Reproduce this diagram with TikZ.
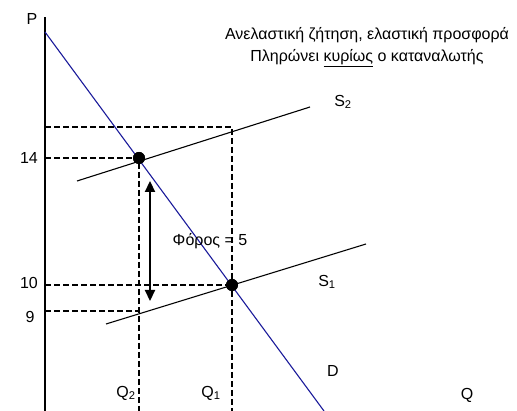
\documentclass[tikz,border=0pt]{standalone}
\usepackage{fontspec}
\setmainfont{Liberation Sans}
\usepackage{xcolor}
\usetikzlibrary{calc,positioning,arrows.meta}
\definecolor{demandblue}{HTML}{1A1A9A}

\begin{document}
\begin{tikzpicture}[
  x=1pt, y=-1pt,
  font=\fontsize{16}{22}\selectfont,
  guide/.style={dash pattern=on 6pt off 3pt, line width=1.8pt},
  curve/.style={line width=1.1pt},
  eqdot/.style={circle, fill=black, inner sep=0pt, minimum size=12pt},
  lbl/.style={inner sep=1pt},
]
\useasboundingbox (0,0) rectangle (517,411);

% Axis
\coordinate (origin) at (45,411);
\coordinate (ptop) at (45,17);
\draw[line width=1.1pt] (origin) -- (ptop);
\node[lbl] (plabel) at (32,19) {P};
\node[lbl] (qlabel) at (467,395) {Q};

% Title
\node[align=center] (title) at (367,47) {Ανελαστική ζήτηση, ελαστική προσφορά\\Πληρώνει \underline{κυρίως} ο καταναλωτής};

% Equilibrium points
\node[eqdot] (e2) at (139,158) {};
\node[eqdot] (e1) at (232,285) {};

% Guide lines
\coordinate (p15) at (45,127);
\coordinate (c15) at (232,127);
\coordinate (p14) at (45,158);
\coordinate (p10) at (45,285);
\coordinate (p9) at (45,311);
\coordinate (c9) at (139,311);
\coordinate (q2) at (139,411);
\coordinate (q1) at (232,411);
\draw[guide] (p15) -- (c15) -- (q1);
\draw[guide] (p14) -- (e2.center) -- (q2);
\draw[guide] (p10) -- (e1.center);
\draw[guide] (p9) -- (c9);

% Supply curves
\coordinate (s2a) at (77,181);
\coordinate (s2b) at (310,107);
\coordinate (s1a) at (106,324);
\coordinate (s1b) at (366,244);
\draw[curve] (s2a) -- (s2b);
\draw[curve] (s1a) -- (s1b);

% Demand curve
\coordinate (dtop) at (45,32);
\coordinate (dbot) at (324,411);
\draw[curve, demandblue] (dtop) -- (dbot);

% Redraw dots on top
\node[eqdot] at (e2) {};
\node[eqdot] at (e1) {};

% Tax arrow
\coordinate (taxtop) at (150,181);
\coordinate (taxbot) at (150,301);
\draw[{Triangle[length=11pt,width=10pt]}-{Triangle[length=11pt,width=10pt]}, line width=2.2pt] (taxtop) -- (taxbot);
\node[lbl] (tax) at (210,241) {Φόρος = 5};

% Labels
\node[lbl, anchor=east] (l14) at (39,158) {14};
\node[lbl, anchor=east] (l10) at (39,283) {10};
\node[lbl] (l9) at (30,317) {9};
\node[lbl] (ls2) at (343,102) {S\textsubscript{2}};
\node[lbl] (ls1) at (327,282) {S\textsubscript{1}};
\node[lbl] (ld) at (333,371) {D};
\node[lbl] (lq2) at (126,393) {Q\textsubscript{2}};
\node[lbl] (lq1) at (211,393) {Q\textsubscript{1}};

\end{tikzpicture}
\end{document}
